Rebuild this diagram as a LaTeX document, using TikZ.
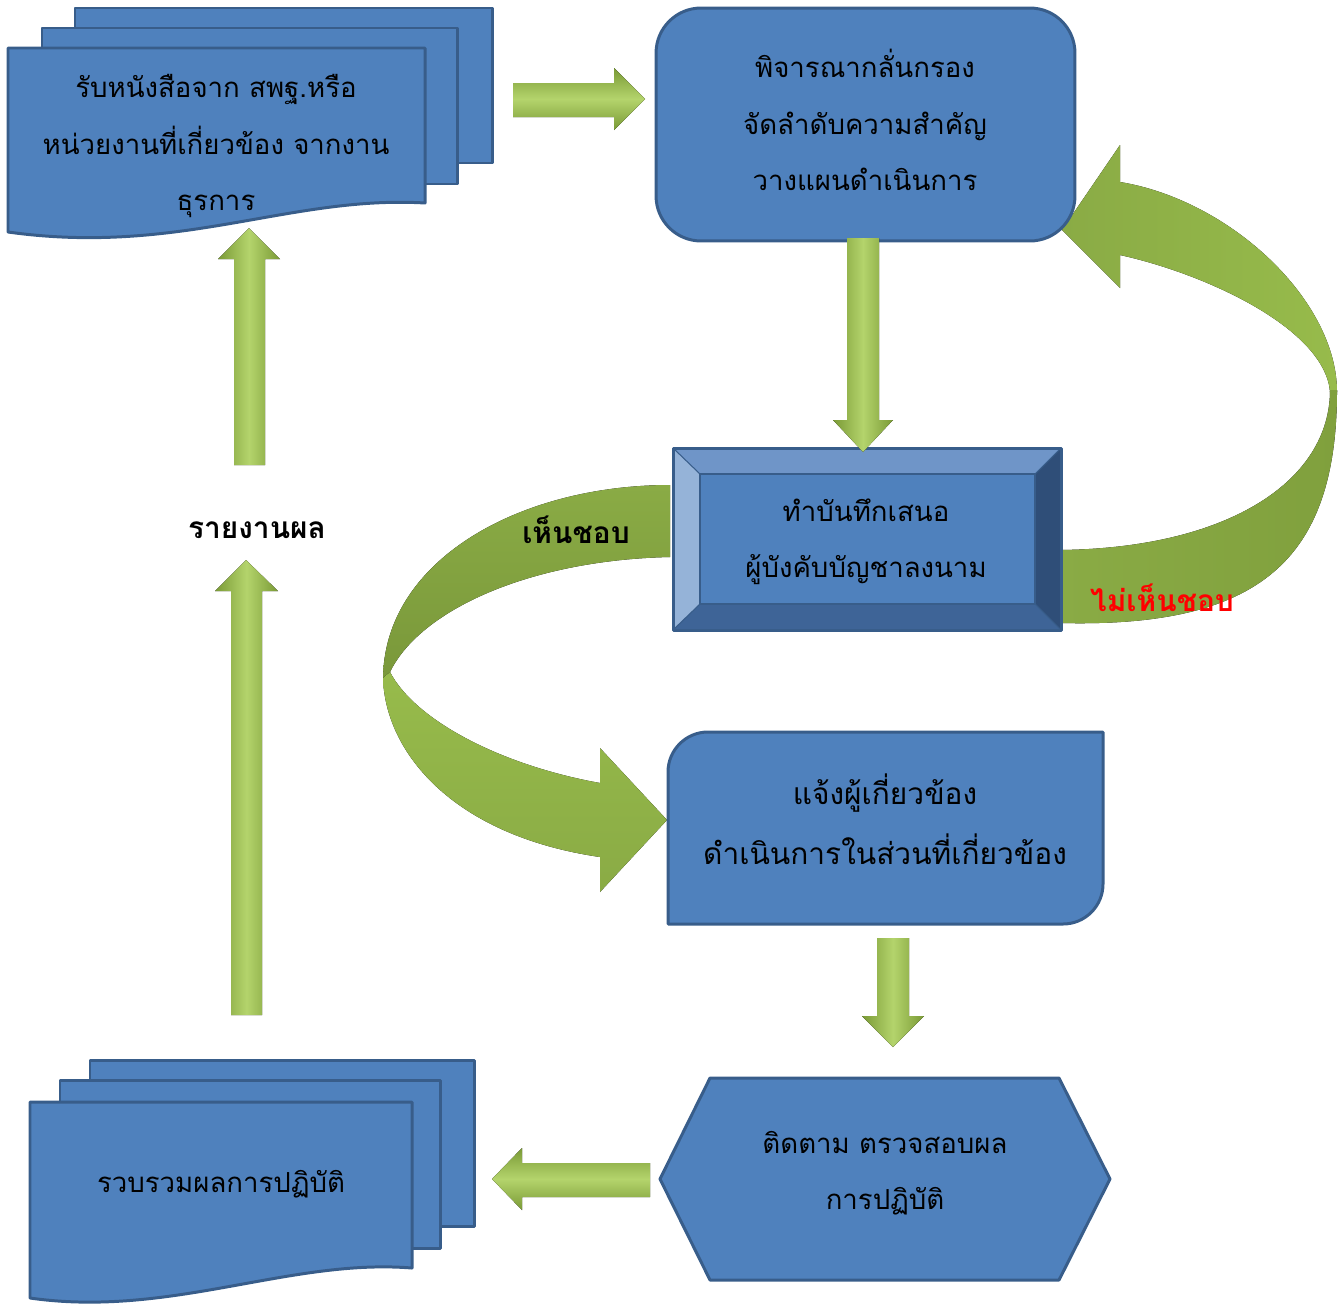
\documentclass[tikz,border=0pt]{standalone}
\usepackage{fontspec}
\newfontfamily\thaifont[Script=Thai]{Loma}
\usetikzlibrary{calc}
\definecolor{boxfill}{HTML}{4F81BD}
\definecolor{boxline}{HTML}{385D8A}
\definecolor{agreen}{HTML}{7A9A36}
\definecolor{alight}{HTML}{B4D46C}
\definecolor{cdark}{HTML}{80A03D}
\definecolor{cmid}{HTML}{8AAB45}
\definecolor{clight}{HTML}{97BB4B}
\definecolor{bevtop}{HTML}{6F95C8}
\definecolor{bevleft}{HTML}{95B3D8}
\definecolor{bevright}{HTML}{2F4E78}
\definecolor{bevbot}{HTML}{3E6497}
\begin{document}
\begin{tikzpicture}[x=0.02cm,y=-0.02cm,line join=round,
  box/.style={fill=boxfill,draw=boxline,line width=1.7pt},
  txt/.style={font=\thaifont\fontsize{15.7}{32}\selectfont,align=center,text=black,inner sep=0pt},
  bigtxt/.style={font=\thaifont\fontsize{17}{34}\selectfont,align=center,text=black,inner sep=0pt},
  lbl/.style={font=\thaifont\bfseries\fontsize{17}{20}\selectfont,inner sep=0pt},
  varrow/.style={left color=agreen,right color=agreen,middle color=alight,draw=none},
  harrow/.style={top color=agreen,bottom color=agreen,middle color=alight,draw=none}]
\useasboundingbox (0,0) rectangle (1344,1305);

% ---------- curved arrow: approve (left) ----------
\fill[top color=cmid,bottom color=cdark!95!black]
  (670,485) .. controls (520,485) and (383,560) .. (383,680)
  -- (390,672) .. controls (420,610) and (530,560) .. (670,557) -- cycle;
\fill[top color=clight,bottom color=cmid]
  (383,678) .. controls (385,750) and (450,835) .. (600,857)
  -- (600,892) -- (667,820) -- (600,748) -- (600,783)
  .. controls (500,765) and (415,720) .. (390,672) -- cycle;

% ---------- curved arrow: reject (right) ----------
\fill[left color=cmid,right color=clight]
  (1337,392) .. controls (1337,300) and (1230,200) .. (1120,182)
  -- (1120,145) -- (1062,230) -- (1120,288) -- (1120,255)
  .. controls (1210,275) and (1325,330) .. (1330,392) -- cycle;
\fill[left color=cmid,right color=cdark]
  (1060,623) .. controls (1260,628) and (1337,560) .. (1337,390)
  -- (1330,390) .. controls (1330,480) and (1230,548) .. (1060,550) -- cycle;

% ---------- document stack 1 ----------
\draw[box] (75,8) rectangle (492,163);
\draw[box] (42,28) rectangle (457,184);
\draw[box] (8,48) -- (425,48) -- (425,203)
  .. controls (290,195) and (180,256) .. (8,232) -- cycle;
\node[txt] (doc) at (216,146) {รับหนังสือจาก สพฐ.หรือ\\หน่วยงานที่เกี่ยวข้อง จากงาน\\ธุรการ};

% ---------- plan (rounded rectangle) ----------
\node[box,rounded corners=0.9cm,minimum width=8.38cm,minimum height=4.66cm,inner sep=0pt]
  (planbox) at (865.5,124.5) {};
\node[txt] (plan) at (865,120) {พิจารณากลั่นกรอง\\จัดลำดับความสำคัญ\\วางแผนดำเนินการ};

% ---------- memo (bevel) ----------
\fill[boxfill] (673,448) rectangle (1061,630);
\fill[bevtop] (673,448) -- (1061,448) -- (1035,474) -- (700,474) -- cycle;
\fill[bevleft] (673,448) -- (700,474) -- (700,604) -- (673,630) -- cycle;
\fill[bevright] (1061,448) -- (1061,630) -- (1035,604) -- (1035,474) -- cycle;
\fill[bevbot] (673,630) -- (700,604) -- (1035,604) -- (1061,630) -- cycle;
\draw[boxline,line width=0.8pt] (700,474) rectangle (1035,604);
\draw[boxline,line width=0.6pt] (673,448) -- (700,474) (1061,448) -- (1035,474)
  (673,630) -- (700,604) (1061,630) -- (1035,604);
\draw[boxline,line width=1.7pt] (673,448) rectangle (1061,630);
\node[txt] (memo) at (866,542) {ทำบันทึกเสนอ\\ผู้บังคับบัญชาลงนาม};

% ---------- notify (snip/round rectangle) ----------
\draw[box] (668,924) -- (668,772) .. controls (668,749.9) and (685.9,732) .. (708,732)
  -- (1103,732) -- (1103,884) .. controls (1103,906.1) and (1085.1,924) .. (1063,924) -- cycle;
\node[bigtxt] (notify) at (885,819) {แจ้งผู้เกี่ยวข้อง\\ดำเนินการในส่วนที่เกี่ยวข้อง};

% ---------- follow (hexagon) ----------
\draw[box] (710,1078) -- (1059,1078) -- (1110,1179) -- (1059,1280) -- (710,1280) -- (660,1179) -- cycle;
\node[txt] (follow) at (885,1173) {ติดตาม ตรวจสอบผล\\การปฏิบัติ};

% ---------- document stack 2 ----------
\draw[box] (90,1060) rectangle (474,1226);
\draw[box] (60,1080) rectangle (440,1248);
\draw[box] (30,1102) -- (412,1102) -- (412,1268)
  .. controls (290,1258) and (170,1318) .. (30,1298) -- cycle;
\node[txt] (collect) at (221,1184) {รวบรวมผลการปฏิบัติ};

% ---------- straight block arrows ----------
\coordinate (a1s) at (513,100); \coordinate (a1e) at (645,98);
\fill[harrow] (513,83) -- (614,83) -- (614,68) -- (645,99) -- (614,130) -- (614,117) -- (513,117) -- cycle;
\coordinate (a2s) at (863,238); \coordinate (a2e) at (863,452);
\fill[varrow] (847,238) -- (879,238) -- (879,420) -- (893,420) -- (863,452) -- (833,420) -- (847,420) -- cycle;
\coordinate (a3s) at (249,465); \coordinate (a3e) at (249,228);
\fill[varrow] (234,465) -- (265,465) -- (265,259) -- (280,259) -- (249,228) -- (218,259) -- (234,259) -- cycle;
\coordinate (a4s) at (246,1015); \coordinate (a4e) at (246,560);
\fill[varrow] (231,1015) -- (262,1015) -- (262,591) -- (278,591) -- (246,560) -- (215,591) -- (231,591) -- cycle;
\coordinate (a5s) at (893,938); \coordinate (a5e) at (893,1047);
\fill[varrow] (877,938) -- (909,938) -- (909,1016) -- (924,1016) -- (893,1047) -- (862,1016) -- (877,1016) -- cycle;
\coordinate (a6s) at (650,1180); \coordinate (a6e) at (492,1179);
\fill[harrow] (650,1163) -- (522,1163) -- (522,1148) -- (492,1179) -- (522,1210) -- (522,1197) -- (650,1197) -- cycle;

% ---------- labels ----------
\node[lbl] (report) at (257,530) {รายงานผล};
\node[lbl] (yes) at (576,530) {เห็นชอบ};
\node[lbl,text=red] (no) at (1162,598) {ไม่เห็นชอบ};
\end{tikzpicture}
\end{document}
